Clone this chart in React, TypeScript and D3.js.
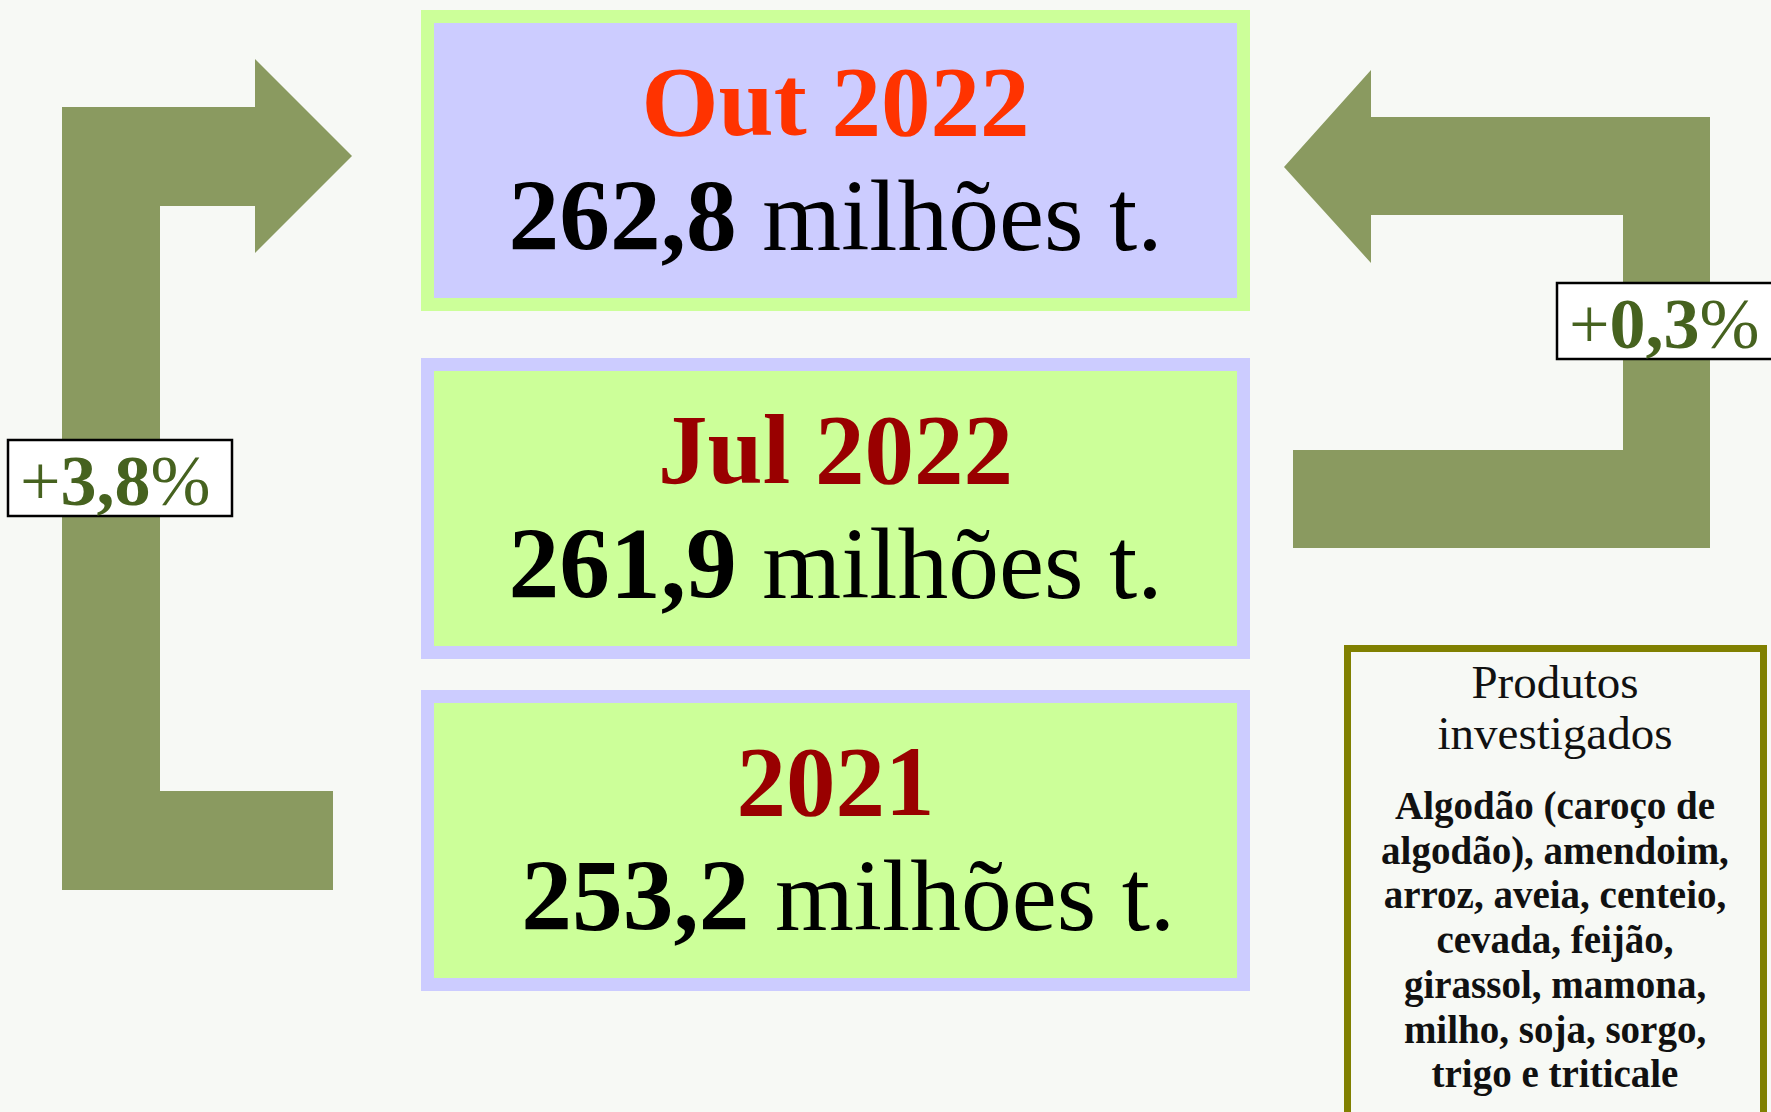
import React from "react";
import * as d3 from "d3";

const periods = ["Out 2022", "Jul 2022", "2021"];
const values = [262.8, 261.9, 253.2];
const unitLabel = " milhões t.";
const productsTitle = ["Produtos", "investigados"];
const productsList = [
  "Algodão (caroço de",
  "algodão), amendoim,",
  "arroz, aveia, centeio,",
  "cevada, feijão,",
  "girassol, mamona,",
  "milho, soja, sorgo,",
  "trigo e triticale",
];

const W = 1771;
const H = 1112;
const FONT = "'Liberation Serif', 'Times New Roman', serif";
const BG = "#F7F9F5";
const ARROW = "#8A9A60";
const LABEL_GREEN = "#46621F";
const LAVENDER = "#CCCCFF";
const LIME = "#CCFF99";
const titleColors = ["#FF3300", "#990000", "#990000"];

const fmtNum = (v: number) => d3.format(".1f")(v).replace(".", ",");
const pctChange = (a: number, b: number) => fmtNum((a / b - 1) * 100);

// box layout
const boxX = 421;
const boxW = 829;
const boxTops = [10, 358, 690];
const boxH = 301;
const border = 13;

function polyPath(pts: [number, number][]) {
  const p = d3.path();
  pts.forEach(([x, y], i) => (i === 0 ? p.moveTo(x, y) : p.lineTo(x, y)));
  p.closePath();
  return p.toString();
}

export default function App() {
  const leftArrow = polyPath([
    [62, 890],
    [333, 890],
    [333, 791],
    [160, 791],
    [160, 206],
    [255, 206],
    [255, 253],
    [352, 156],
    [255, 59],
    [255, 107],
    [62, 107],
  ]);
  const rightArrow = polyPath([
    [1293, 548],
    [1710, 548],
    [1710, 117],
    [1371, 117],
    [1371, 70],
    [1284, 167],
    [1371, 263],
    [1371, 215],
    [1623, 215],
    [1623, 450],
    [1293, 450],
  ]);

  const chgTotal = pctChange(values[0], values[2]);
  const chgRecent = pctChange(values[0], values[1]);

  return (
    <svg
      width={W}
      height={H}
      viewBox={`0 0 ${W} ${H}`}
      style={{ position: "absolute", left: 0, top: 0, display: "block", background: BG }}
      fontFamily={FONT}
    >
      <rect x={0} y={0} width={W} height={H} fill={BG} />

      <path d={leftArrow} fill={ARROW} />
      <path d={rightArrow} fill={ARROW} />

      {periods.map((p, i) => {
        const top = boxTops[i];
        const outer = i === 0 ? LIME : LAVENDER;
        const inner = i === 0 ? LAVENDER : LIME;
        const cx = boxX + boxW / 2;
        const num = (i === 2 ? " " : "") + fmtNum(values[i]);
        return (
          <g key={p}>
            <rect x={boxX} y={top} width={boxW} height={boxH} fill={outer} />
            <rect
              x={boxX + border}
              y={top + border}
              width={boxW - 2 * border}
              height={boxH - 2 * border}
              fill={inner}
            />
            <text
              x={cx}
              y={top + 125}
              textAnchor="middle"
              fontSize={99}
              fontWeight="bold"
              fill={titleColors[i]}
            >
              {p}
            </text>
            <text
              x={cx}
              y={top + 240}
              textAnchor="middle"
              fontSize={101.5}
              fill="#000"
              style={{ whiteSpace: "pre" }}
            >
              <tspan fontWeight="bold">{num}</tspan>
              <tspan>{unitLabel}</tspan>
            </text>
          </g>
        );
      })}

      {/* change labels */}
      <rect x={8} y={440} width={224} height={76} fill="#fff" stroke="#000" strokeWidth={2.5} />
      <text x={20} y={505} fontSize={72} fill={LABEL_GREEN}>
        <tspan>+</tspan>
        <tspan fontWeight="bold">{chgTotal}</tspan>
        <tspan>%</tspan>
      </text>

      <rect x={1557} y={283} width={230} height={76} fill="#fff" stroke="#000" strokeWidth={2.5} />
      <text x={1569} y={348} fontSize={72} fill={LABEL_GREEN}>
        <tspan>+</tspan>
        <tspan fontWeight="bold">{chgRecent}</tspan>
        <tspan>%</tspan>
      </text>

      {/* products box */}
      <rect x={1347.5} y={648.5} width={416} height={480} fill={BG} stroke="#808000" strokeWidth={7} />
      {productsTitle.map((t, i) => (
        <text key={t} x={1555} y={698 + i * 51} textAnchor="middle" fontSize={47} fill="#111">
          {t}
        </text>
      ))}
      {productsList.map((t, i) => (
        <text
          key={t}
          x={1555}
          y={819 + i * 44.7}
          textAnchor="middle"
          fontSize={39}
          fontWeight="bold"
          fill="#111"
        >
          {t}
        </text>
      ))}
    </svg>
  );
}
